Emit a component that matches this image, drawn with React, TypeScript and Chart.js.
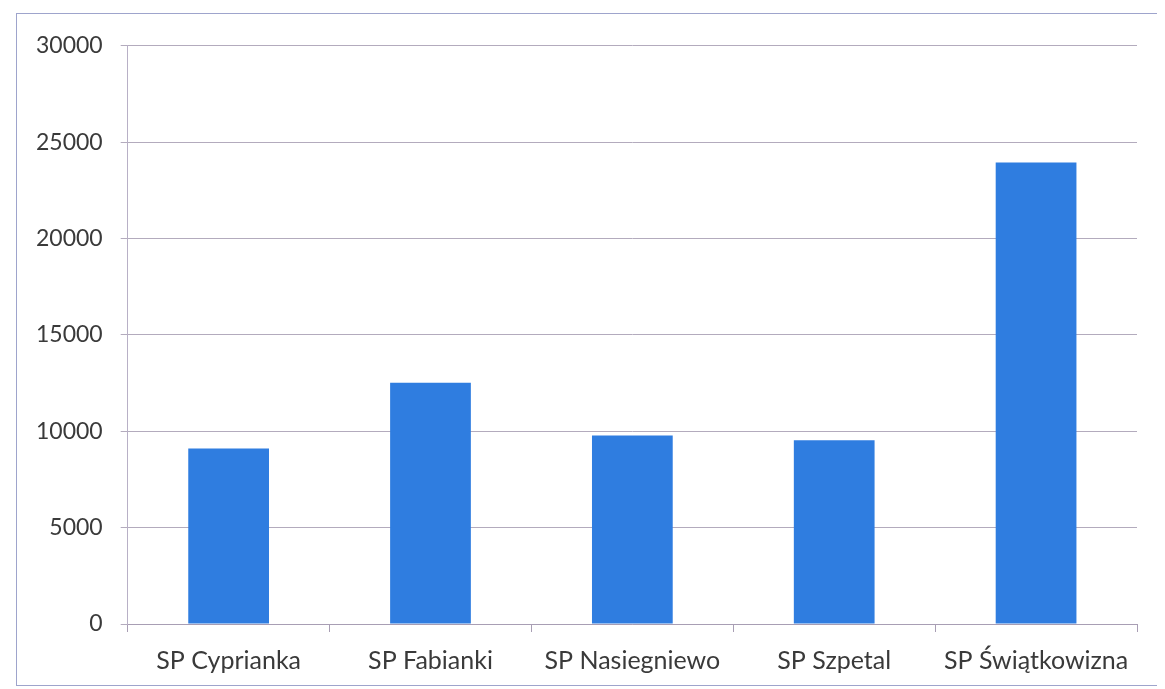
import React, { useEffect, useRef } from "react";
import { Chart, registerables } from "chart.js";

Chart.register(...registerables);

const categories = ["SP Cyprianka", "SP Fabianki", "SP Nasiegniewo", "SP Szpetal", "SP Świątkowizna"];
const values = [9100, 12520, 9780, 9530, 23950];
const yMin = 0;
const yMax = 30000;
const yStep = 5000;

export default function App() {
  const ref = useRef<HTMLCanvasElement>(null);
  useEffect(() => {
    if (!ref.current) return;
    const chart = new Chart(ref.current, {
      type: "bar",
      data: {
        labels: categories,
        datasets: [
          {
            data: values,
            backgroundColor: "#2f7de0",
            borderWidth: 0,
            barPercentage: 0.4,
            categoryPercentage: 1,
          },
        ],
      },
      options: {
        animation: false,
        responsive: false,
        maintainAspectRatio: false,
        layout: { padding: { left: 1, right: 28, top: 20, bottom: 0 } },
        plugins: { legend: { display: false }, tooltip: { enabled: false } },
        scales: {
          x: {
            grid: {
              offset: true,
              drawOnChartArea: false,
              drawTicks: true,
              tickLength: 8,
              color: "#a89eb4",
            },
            border: { display: true, color: "#a89eb4", width: 1 },
            ticks: { color: "#3a3a3a", font: { family: "Lato", size: 25 }, padding: 14, maxRotation: 0 },
          },
          y: {
            min: yMin,
            max: yMax,
            ticks: {
              stepSize: yStep,
              color: "#3a3a3a",
              font: { family: "Lato", size: 23 },
              padding: 18,
              callback: (v: any) => String(v),
            },
            grid: { color: "#b3abbd", lineWidth: 1, tickLength: 7 },
            border: { display: true, color: "#b8b0c6", width: 1 },
          },
        },
      },
    });
    return () => chart.destroy();
  }, []);
  return (
    <div
      style={{
        position: "relative",
        marginLeft: 8,
        marginTop: 5,
        width: 1150,
        height: 673,
        boxSizing: "border-box",
        border: "1px solid #9ea4cc",
        background: "#fff",
      }}
    >
      <canvas
        ref={ref}
        width={1148}
        height={676}
        style={{ display: "block", position: "absolute", left: 0, top: 0 }}
      />
    </div>
  );
}
